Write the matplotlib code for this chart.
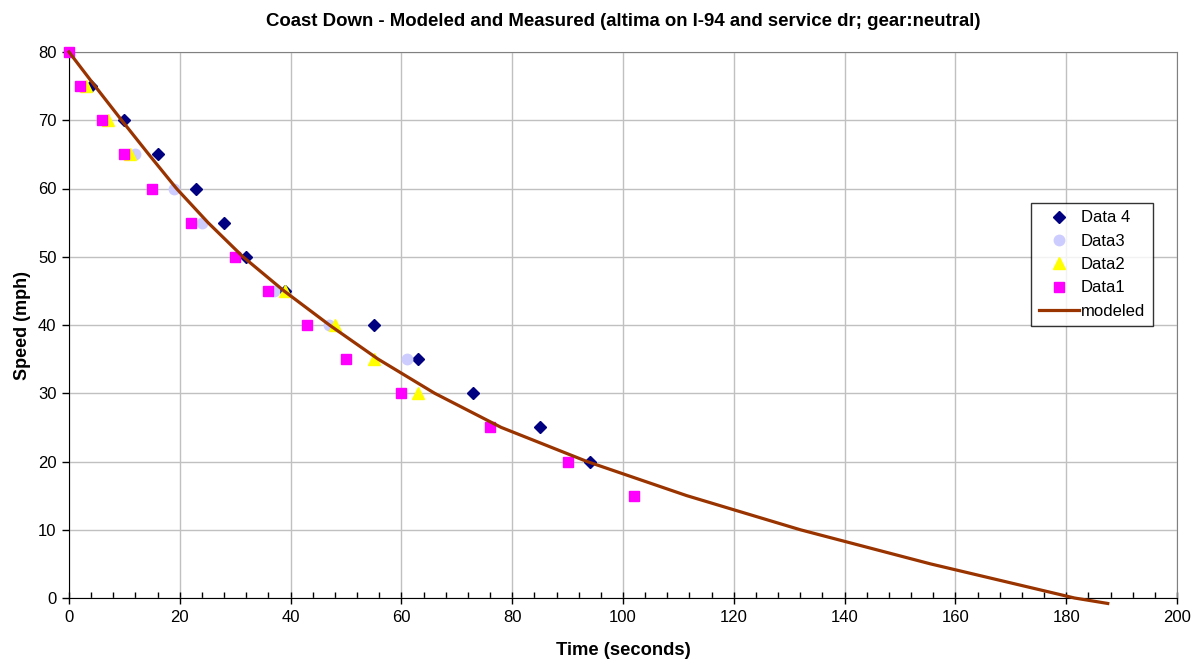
import matplotlib
matplotlib.use('Agg')
import matplotlib.pyplot as plt
import numpy as np

plt.rcParams['font.family'] = ['Liberation Sans', 'DejaVu Sans']

# measured runs (time s, speed mph)
data1_t = [0, 2, 6, 10, 15, 22, 30, 36, 43, 50, 60, 76, 90, 102]
data1_v = [80, 75, 70, 65, 60, 55, 50, 45, 40, 35, 30, 25, 20, 15]
data2_t = [3, 7, 11, 39, 48, 55, 63]
data2_v = [75, 70, 65, 45, 40, 35, 30]
data3_t = [12, 19, 24, 37, 47, 61]
data3_v = [65, 60, 55, 45, 40, 35]
data4_t = [4, 10, 16, 23, 28, 32, 39, 55, 63, 73, 85, 94]
data4_v = [75, 70, 65, 60, 55, 50, 45, 40, 35, 30, 25, 20]

# modeled coast-down curve
model_t = [0, 4.7, 9.5, 14.4, 19.4, 25.1, 31.4, 38.8, 47.0, 55.8, 66.0, 78.0,
           93.5, 111.5, 132, 155.5, 181.5, 187.5]
model_v = [80, 75, 70, 65, 60, 55, 50, 45, 40, 35, 30, 25,
           20, 15, 10, 5, 0, -0.8]


def main():
    fig = plt.figure(figsize=(11.95, 6.61), dpi=100)
    ax = fig.add_axes([69 / 1195, 1 - 598 / 661, 1108 / 1195, 546 / 661])

    ax.plot(data4_t, data4_v, 'D', color='#000080', ms=6, mec='#000080',
            label='Data 4', clip_on=False, zorder=3)
    ax.plot(data3_t, data3_v, 'o', color='#ccccff', ms=7.5, mec='#ccccff',
            label='Data3', clip_on=False, zorder=4)
    ax.plot(data2_t, data2_v, '^', color='#ffff00', ms=8.5, mec='#ffff00',
            label='Data2', clip_on=False, zorder=5)
    ax.plot(data1_t, data1_v, 's', color='#ff00ff', ms=7.2, mec='#ff00ff',
            label='Data1', clip_on=False, zorder=6)
    ax.plot(model_t, model_v, '-', color='#993300', lw=2.3,
            label='modeled', clip_on=False, zorder=7)

    ax.set_xlim(0, 200)
    ax.set_ylim(0, 80)
    ax.set_xticks(np.arange(0, 201, 20))
    ax.set_xticks(np.arange(0, 201, 4), minor=True)
    ax.set_yticks(np.arange(0, 81, 10))

    # grid behind points
    ax.set_axisbelow(True)
    ax.grid(which='major', color='#c0c0c0', linewidth=1)

    ax.tick_params(axis='x', which='major', direction='inout', length=8,
                   width=1, labelsize=12, pad=5)
    ax.tick_params(axis='x', which='minor', direction='in', length=4, width=1)
    ax.tick_params(axis='y', which='major', direction='out', length=5,
                   width=1, labelsize=12, pad=4)

    ax.spines['left'].set_color('black')
    ax.spines['bottom'].set_color('black')
    ax.spines['top'].set_color('#808080')
    ax.spines['right'].set_color('#808080')

    ax.set_title('Coast Down - Modeled and Measured (altima on I-94 and service dr; gear:neutral)',
                 fontsize=13.4, fontweight='bold', pad=19)
    ax.set_xlabel('Time (seconds)', fontsize=13.2, fontweight='bold', labelpad=12)
    ax.set_ylabel('Speed (mph)', fontsize=13, fontweight='bold', labelpad=5)

    leg = ax.legend(loc='upper left', fontsize=12, frameon=True,
                    fancybox=False, edgecolor='black', borderpad=0.45,
                    labelspacing=0.5, handlelength=2.4, handletextpad=0.15,
                    borderaxespad=0)
    leg.set_bbox_to_anchor((1031 / 1195, 1 - 203 / 661), transform=fig.transFigure)
    leg.get_frame().set_linewidth(1)

    fig.savefig('out.png', dpi=100)


if __name__ == '__main__':
    main()
